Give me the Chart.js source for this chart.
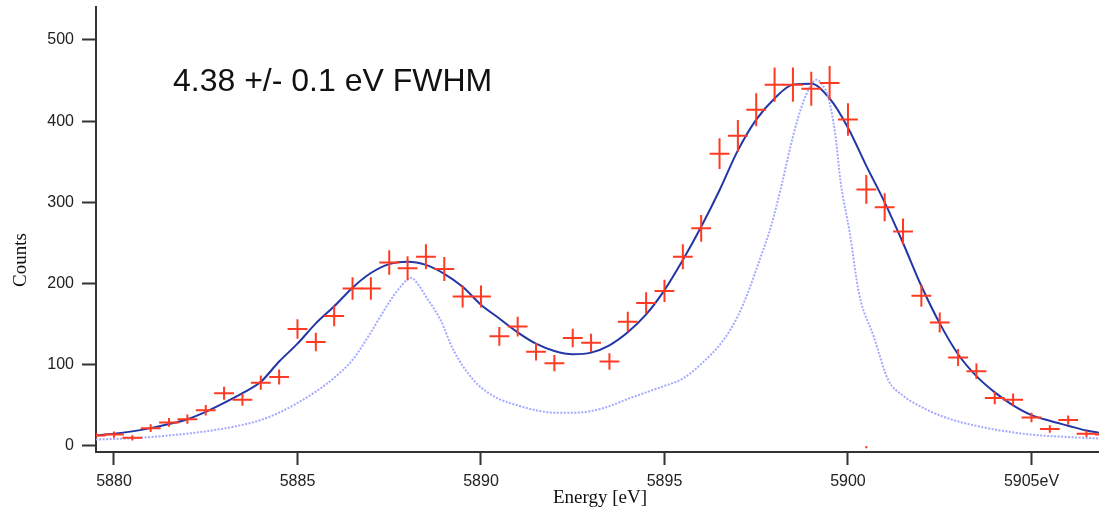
<!DOCTYPE html>
<html>
<head>
<meta charset="utf-8">
<script src="https://cdn.jsdelivr.net/npm/chart.js@4/dist/chart.umd.min.js"></script>
<style>
  body { margin: 0; background: #fff; }
  #wrap { width: 1099px; height: 511px; position: relative; }
</style>
</head>
<body>
<div id="wrap"><canvas id="spectrum"></canvas></div>
<script>
// measured counts, one bin every 0.5 eV
const energy = [5879.5, 5880, 5880.5, 5881, 5881.5, 5882, 5882.5, 5883, 5883.5, 5884, 5884.5,
  5885, 5885.5, 5886, 5886.5, 5887, 5887.5, 5888, 5888.5, 5889, 5889.5, 5890, 5890.5,
  5891, 5891.5, 5892, 5892.5, 5893, 5893.5, 5894, 5894.5, 5895, 5895.5, 5896, 5896.5,
  5897, 5897.5, 5898, 5898.5, 5899, 5899.5, 5900, 5900.5, 5901, 5901.5, 5902, 5902.5,
  5903, 5903.5, 5904, 5904.5, 5905, 5905.5, 5906, 5906.5, 5907];
const counts = [13, 14, 10, 22, 29, 33, 44, 65, 57, 78, 85,
  144, 128, 160, 194, 194, 226, 219, 233, 218, 184, 184, 135,
  147, 116, 102, 133, 127, 104, 153, 176, 191, 233, 268, 360,
  382, 414, 445, 445, 440, 447, 402, 316, 294, 264, 185, 152,
  109, 92, 59, 57, 35, 21, 32, 15, 14];
const countErr = [3.6, 3.7, 3.2, 4.7, 5.4, 5.7, 6.6, 8, 7.5, 8.8, 9.2,
  12, 11.3, 12.6, 13.9, 13.9, 15, 14.8, 15.3, 14.8, 13.6, 13.6, 11.6,
  12.1, 10.8, 10.1, 11.5, 11.3, 10.2, 12.4, 13.3, 13.8, 15.3, 16.4, 19,
  19.5, 20.3, 21, 21, 21, 21, 20, 17.8, 17.1, 16.2, 13.6, 12.3,
  10.4, 9.6, 7.7, 7.5, 5.9, 4.6, 5.7, 3.9, 3.7];

// fitted curve
const fitE = energy;
const fitCounts = [13, 15, 18, 22, 27, 33, 42, 53, 65, 79, 104,
  126, 151, 172, 195, 213, 224, 227, 223, 212, 196, 174, 157,
  140, 126, 117, 113, 115, 124, 140, 162, 192, 229, 270, 315,
  364, 402, 428, 445, 446, 428, 392, 345, 300, 250, 197, 151,
  113, 86, 66, 50, 38, 31, 25, 19, 15];

// intrinsic line shape (dotted)
const shapeE = [5879.5, 5880.5, 5881.5, 5882.5, 5883.5, 5884, 5884.5, 5885, 5885.5, 5886,
  5886.5, 5887, 5887.4, 5887.7, 5888, 5888.1, 5888.3, 5888.5, 5888.9, 5889.25, 5889.8,
  5890.4, 5891, 5891.5, 5892, 5892.5, 5893, 5893.5, 5894, 5894.5, 5895, 5895.5, 5896,
  5896.6, 5897, 5897.3, 5897.6, 5897.9, 5898.2, 5898.5, 5898.8, 5899.05, 5899.15, 5899.3,
  5899.46, 5899.65, 5899.8, 5900.05, 5900.3, 5900.7, 5901.1, 5901.5, 5901.8, 5902.6,
  5903.8, 5905, 5906, 5907];
const shapeCounts = [8, 9.5, 13, 18, 26, 32, 41, 53, 67, 84,
  106, 140, 170, 190, 205, 207, 198, 184, 155, 118, 81,
  60, 50, 44, 41, 41, 43, 49, 58, 66, 74, 83, 101,
  130, 160, 192, 230, 270, 323, 381, 426, 448, 451, 445,
  430, 385, 325, 262, 188, 135, 81, 62, 53, 36,
  22, 14, 11, 9];

// stray mark sitting on the axis
const strayE = [5900.5];
const strayCounts = [-1.5];

const xTicks = [5880, 5885, 5890, 5895, 5900, 5905];
const xTickLabels = ['5880', '5885', '5890', '5895', '5900', '5905eV'];
const yTicks = [0, 100, 200, 300, 400, 500];

const toPts = (xs, ys) => xs.map((x, i) => ({ x: x, y: ys[i] }));

// draws the data as crosses: +-0.27 eV across, +-error up and down
const crossPlugin = {
  id: 'crosses',
  afterDatasetsDraw(chart) {
    const ctx = chart.ctx;
    const xs = chart.scales.x, ys = chart.scales.y;
    const a = chart.chartArea;
    ctx.save();
    ctx.beginPath();
    ctx.rect(a.left, a.top - 5, a.right - a.left, a.bottom - a.top + 5);
    ctx.clip();
    ctx.strokeStyle = '#ff3a22';
    ctx.lineWidth = 2;
    energy.forEach((e, i) => {
      const px = xs.getPixelForValue(e);
      const py = ys.getPixelForValue(counts[i]);
      ctx.beginPath();
      ctx.moveTo(xs.getPixelForValue(e - 0.27), py);
      ctx.lineTo(xs.getPixelForValue(e + 0.27), py);
      ctx.moveTo(px, ys.getPixelForValue(counts[i] + countErr[i]));
      ctx.lineTo(px, ys.getPixelForValue(counts[i] - countErr[i]));
      ctx.stroke();
    });
    ctx.restore();
  }
};

// text: annotation and axis titles
const textPlugin = {
  id: 'texts',
  afterDraw(chart) {
    const ctx = chart.ctx;
    ctx.save();
    ctx.fillStyle = '#111';
    ctx.font = '32px "Liberation Sans", Arial, sans-serif';
    ctx.textAlign = 'left';
    ctx.textBaseline = 'alphabetic';
    ctx.fillText('4.38 +/- 0.1 eV FWHM', 173, 91);

    ctx.font = '19px "Liberation Serif", "Times New Roman", serif';
    ctx.textAlign = 'center';
    ctx.textBaseline = 'middle';
    ctx.fillText('Energy [eV]', 600, 498);

    ctx.translate(21, 260);
    ctx.rotate(-Math.PI / 2);
    ctx.fillText('Counts', 0, 0);
    ctx.restore();
  }
};

const ctx = document.getElementById('spectrum').getContext('2d');
new Chart(ctx, {
  type: 'scatter',
  data: {
    datasets: [
      {
        label: 'line shape',
        data: toPts(shapeE, shapeCounts),
        showLine: true,
        borderColor: '#a4a9ff',
        borderWidth: 2,
        borderDash: [2, 1.5],
        pointRadius: 0,
        cubicInterpolationMode: 'monotone'
      },
      {
        label: 'fit',
        data: toPts(fitE, fitCounts),
        showLine: true,
        borderColor: '#2236a6',
        borderWidth: 2,
        pointRadius: 0,
        cubicInterpolationMode: 'monotone'
      },
      {
        label: 'counts',
        data: toPts(energy, counts),
        pointRadius: 0,
        showLine: false
      },
      {
        label: 'stray',
        data: toPts(strayE, strayCounts),
        pointStyle: 'rect',
        pointRadius: 1.5,
        backgroundColor: '#ff3a22',
        borderWidth: 0
      }
    ]
  },
  options: {
    responsive: true,
    maintainAspectRatio: false,
    animation: false,
    layout: { autoPadding: false, padding: { top: 7, right: 0, left: 0, bottom: 0 } },
    plugins: {
      legend: { display: false },
      tooltip: { enabled: false },
      title: { display: false }
    },
    scales: {
      x: {
        type: 'linear',
        min: 5879.51,
        max: 5906.84,
        afterFit: s => { s.height = 59; s.paddingLeft = 0; s.paddingRight = 0; },
        afterBuildTicks: s => { s.ticks = xTicks.map(v => ({ value: v })); },
        grid: { drawOnChartArea: false, tickLength: 13, tickColor: '#333', tickWidth: 2 },
        border: { color: '#333', width: 2 },
        ticks: {
          padding: 7,
          color: '#222',
          maxRotation: 0,
          font: { family: '"Liberation Sans", Arial, sans-serif', size: 16 },
          callback: v => xTickLabels[xTicks.indexOf(v)]
        }
      },
      y: {
        min: -7.4,
        max: 540.6,
        afterFit: s => { s.width = 96; s.paddingTop = 0; s.paddingBottom = 0; },
        afterBuildTicks: s => { s.ticks = yTicks.map(v => ({ value: v })); },
        grid: { drawOnChartArea: false, tickLength: 14, tickColor: '#333', tickWidth: 2 },
        border: { color: '#333', width: 2 },
        ticks: {
          padding: 8,
          color: '#222',
          font: { family: '"Liberation Sans", Arial, sans-serif', size: 16 }
        }
      }
    }
  },
  plugins: [crossPlugin, textPlugin]
});
</script>
</body>
</html>
